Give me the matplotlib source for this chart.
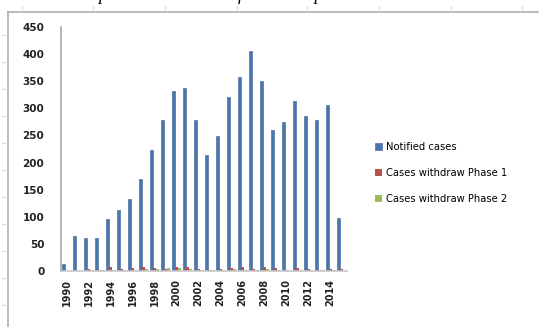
import numpy as np
import matplotlib
matplotlib.use("Agg")
import matplotlib.pyplot as plt
from matplotlib.lines import Line2D

# Datos
years = list(range(1990, 2016))
notified = [12, 64, 61, 61, 96, 112, 132, 170, 224, 278, 332, 337, 278,
            214, 249, 320, 357, 405, 351, 260, 274, 313, 285, 278, 306, 97]
withdraw_phase1 = [0, 0, 3, 2, 7, 4, 6, 8, 5, 4, 7, 8, 3,
                   2, 3, 6, 7, 3, 8, 5, 2, 6, 3, 1, 4, 3]
withdraw_phase2 = [0, 0, 1, 2, 2, 1, 2, 3, 3, 5, 5, 4, 2,
                   1, 1, 4, 2, 1, 3, 1, 0, 1, 2, 1, 1, 0]
series_labels = ["Notified cases", "Cases withdraw Phase 1", "Cases withdraw Phase 2"]
tick_labels = [str(y) if (y - 1990) % 2 == 0 else "" for y in years]

W, H = 539, 327
fig = plt.figure(figsize=(W / 100, H / 100), dpi=100)
fig.patch.set_facecolor("white")

# linea de leyenda cortada arriba (como en la imagen original)
fig.text(98 / W, 1 - 0.5 / H, "potential cases notified in the period",
         family="Liberation Serif", style="italic", fontsize=13,
         ha="left", va="baseline", color="black")

# marco exterior del grafico
fig.add_artist(Line2D([8 / W, 1], [1 - 12 / H, 1 - 12 / H], color="#b4b4b4", lw=1.3))
fig.add_artist(Line2D([8 / W, 8 / W], [0, 1 - 12 / H], color="#b4b4b4", lw=1.3))
# marcas tenues de regla
for px in [22, 93, 165, 237, 307, 379, 451, 522]:
    fig.add_artist(Line2D([px / W, px / W], [1 - 6 / H, 1 - 9 / H], color="#d0d8e4", lw=0.8))
for py in range(35, 327, 27):
    fig.add_artist(Line2D([2 / W, 4.5 / W], [1 - py / H, 1 - py / H], color="#d0d8e4", lw=0.8))

ax = fig.add_axes([61 / W, 1 - 271 / H, 286 / W, 244 / H])
x = np.arange(len(years))
bw = 0.28
ax.bar(x - bw, notified, bw, color="#4a76b0", edgecolor="#3a5f92", linewidth=0.4,
       label=series_labels[0])
ax.bar(x, withdraw_phase1, bw, color="#c0504d", linewidth=0, label=series_labels[1])
ax.bar(x + bw, withdraw_phase2, bw, color="#9bbb59", linewidth=0, label=series_labels[2])

ax.set_xlim(-0.5, len(years) - 0.5)
ax.set_ylim(0, 450)
ax.set_yticks(range(0, 451, 50))
ax.set_xticks(x)
ax.set_xticklabels(tick_labels, rotation=90, fontsize=7, fontweight="bold", color="#222222")
ax.tick_params(axis="y", length=0, pad=12, labelsize=7.5, labelcolor="#222222")
ax.tick_params(axis="x", length=0, pad=6)
for lab in ax.get_yticklabels():
    lab.set_fontweight("bold")

for s in ["top", "right"]:
    ax.spines[s].set_visible(False)
ax.spines["left"].set_color("#a8a8a8")
ax.spines["bottom"].set_color("#c8c8c8")
ax.spines["left"].set_linewidth(1.2)
ax.spines["bottom"].set_linewidth(1.2)
ax.patch.set_alpha(0)

leg = fig.legend(loc="upper left", bbox_to_anchor=(366 / W, 1 - 133 / H),
                 frameon=False, fontsize=7.2, handlelength=0.7, handleheight=0.7,
                 handletextpad=0.4, labelspacing=1.6)

fig.savefig("out.png", dpi=100)
